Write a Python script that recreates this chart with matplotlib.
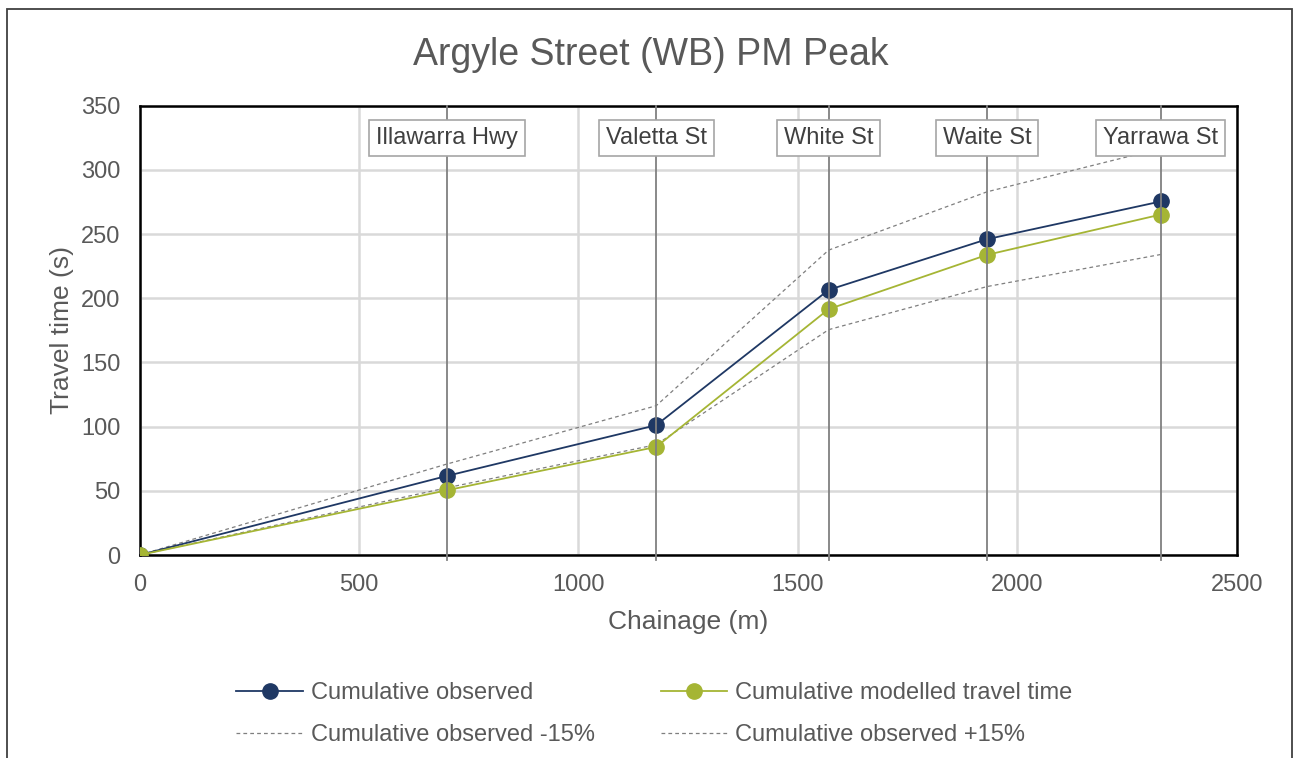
import numpy as np
import matplotlib.pyplot as plt
from matplotlib.patches import Rectangle

plt.rcParams['font.family'] = ['Liberation Sans', 'DejaVu Sans']

# Chainage of each intersection along the route (m)
chainage = [0, 700, 1177, 1570, 1931, 2327]
intersections = ['', 'Illawarra Hwy', 'Valetta St', 'White St', 'Waite St', 'Yarrawa St']

# Cumulative travel times (s)
observed = [0, 61.6, 101.1, 206.5, 246.0, 275.4]
modelled = [0, 50.4, 84.2, 191.5, 233.8, 265.2]

obs = np.array(observed)
obs_lo = obs * 0.85
obs_hi = obs * 1.15

navy = '#1F3864'
green = '#A5B534'
txt = '#595959'

fig = plt.figure(figsize=(12.93, 7.58), dpi=100)
ax = fig.add_axes([0.1080, 0.2678, 0.8485, 0.5928])

l_obs, = ax.plot(chainage, observed, color=navy, lw=1.3, marker='o', ms=11,
                 label='Cumulative observed', zorder=4)
l_mod, = ax.plot(chainage, modelled, color=green, lw=1.3, marker='o', ms=11,
                 label='Cumulative modelled travel time', zorder=4)
l_lo, = ax.plot(chainage, obs_lo, color='#7F7F7F', lw=0.9, dashes=(3, 2.5),
                label='Cumulative observed -15%', zorder=3)
l_hi, = ax.plot(chainage, obs_hi, color='#7F7F7F', lw=0.9, dashes=(3, 2.5),
                label='Cumulative observed +15%', zorder=3)

# intersection markers with name boxes
for x, name in zip(chainage[1:], intersections[1:]):
    ax.plot([x, x], [-4, 350], color='#808080', lw=1.3, zorder=5, clip_on=False)
    ax.text(x, 324.5, name, ha='center', va='center', fontsize=17, color='#404040',
            zorder=6, bbox=dict(boxstyle='square,pad=0.3', fc='white',
                                ec='#A6A6A6', lw=1.2))

ax.set_xlim(0, 2500)
ax.set_ylim(0, 350)
ax.set_xticks(np.arange(0, 2501, 500))
ax.set_yticks(np.arange(0, 351, 50))
ax.grid(color='#D9D9D9', lw=1.8, zorder=0)
ax.set_axisbelow(True)
ax.tick_params(length=0, labelsize=17, labelcolor=txt, pad=14)
for s in ax.spines.values():
    s.set_linewidth(1.8)
    s.set_color('black')

ax.set_xlabel('Chainage (m)', fontsize=19, color=txt, labelpad=10)
ax.set_ylabel('Travel time (s)', fontsize=19, color=txt, labelpad=5)
fig.text(0.5035, 0.927, 'Argyle Street (WB) PM Peak', ha='center', va='center',
         fontsize=27, color=txt)

# row-wise order: observed / modelled on top, the +-15% bands below
leg = ax.legend([l_obs, l_lo, l_mod, l_hi],
                [l.get_label() for l in (l_obs, l_lo, l_mod, l_hi)],
                loc='upper left', bbox_to_anchor=(0.0775, -0.2565), ncol=2,
                frameon=False, borderpad=0, fontsize=17, handlelength=2.8,
                handletextpad=0.34, columnspacing=2.8, labelspacing=0.86)
for t in leg.get_texts():
    t.set_color(txt)

# outer chart border
fig.patches.append(Rectangle((7 / 1293, -0.05), 1285 / 1293, 1.05 - 9 / 758,
                             transform=fig.transFigure, fill=False,
                             ec='#404040', lw=1.3))

fig.savefig('out.png', dpi=100)
